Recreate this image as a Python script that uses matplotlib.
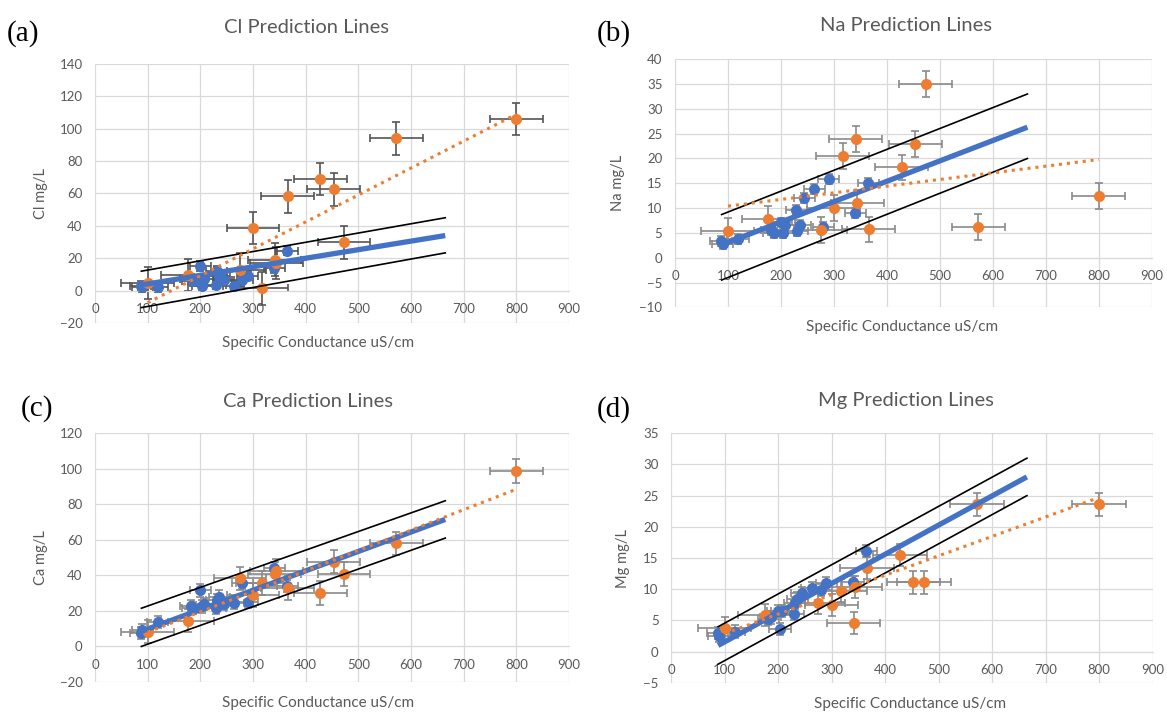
import matplotlib
matplotlib.use("Agg")
import matplotlib.pyplot as plt

# specific conductance (uS/cm) of the two sample groups
blue_sc = [87, 90, 119, 182, 186, 200, 204, 207, 229, 231, 236, 244, 263, 280, 290, 340, 365]
orange_sc = [100, 176, 275, 300, 317, 341, 344, 366, 428, 453, 473, 572, 800]

# ion concentrations, mg/L
cl_blue = [3, 2, 2, 7, 6, 15.4, 2.7, 7, 3.7, 12, 9, 6.8, 3, 6.8, 9.3, 14, 24.7]
cl_orange = [4.8, 9.5, 13, 38.7, 1.4, 19.1, 17, 58.2, 69, 62.5, 29.8, 94, 106]
na_blue = [3.4, 2.8, 3.7, 5.6, 5.0, 7.1, 5.0, 6.5, 9.6, 5.4, 6.6, 12, 13.9, 6.25, 15.9, 9.1, 15]
na_orange = [5.4, 7.8, 5.6, 10, 20.5, 23.9, 11, 5.7, 18.2, 22.9, 35, 6.25, 12.4]
ca_blue = [7.5, 9, 13.7, 22.5, 21.5, 31.5, 22.5, 24, 21.6, 26, 28, 24, 24.7, 35.6, 25.3, 44, 34]
ca_orange = [8.4, 14.6, 38.4, 29, 35.6, 40.7, 42.7, 33, 30, 47.8, 40.8, 58.1, 98.7]
mg_blue = [3, 2.5, 3.2, 5.3, 5.5, 6.5, 3.6, 6.5, 6, 7.8, 8.5, 9.4, 10.2, 9.9, 11, 11.1, 16.1]
mg_orange = [3.75, 5.9, 7.8, 7.5, 9.8, 4.6, 10.4, 13.4, 15.5, 11.1, 11.1, 23.6, 23.6]

# error bar half widths
blue_xerr = 20
orange_xerr = 50
cl_yerr = [3, 10]
na_yerr = [1, 2.6]
ca_yerr = [3.5, 6.6]
mg_yerr = [1, 1.8]

# regression line, prediction band and orange trend line end points
fit_x = [88, 665]
trend_x = [100, 800]
cl_fit, cl_upper, cl_lower, cl_trend = [3.5, 34], [12, 45], [-10.5, 23.3], [-7.5, 109]
na_fit, na_upper, na_lower, na_trend = [2.6, 26.3], [8.7, 33], [-4.5, 20], [10.4, 19.8]
ca_fit, ca_upper, ca_lower, ca_trend = [8.5, 71.5], [21.5, 82], [0, 61], [8, 88.5]
mg_fit, mg_upper, mg_lower, mg_trend = [1, 28], [4, 31], [-2, 25], [2.9, 24.7]

BLUE = "#4472C4"
ORANGE = "#ED7D31"
GRID = "#d9d9d9"
TXT = "#595959"

plt.rcParams["font.family"] = ["Lato", "DejaVu Sans"]

fig = plt.figure(figsize=(11.67, 7.15), dpi=100)


def panel(rect, ion, blue, orange, yerr, fit, upper, lower, trend, ylim, ystep,
          ecol, tag, tag_xy, title_xy, ylab_x, xlab_xy):
    ax = fig.add_axes(rect)
    ax.set_xlim(0, 900)
    ax.set_ylim(*ylim)
    ax.set_xticks(range(0, 901, 100))
    ax.set_yticks(range(ylim[0], ylim[1] + 1, ystep))
    ax.grid(True, color=GRID, lw=0.9)
    ax.set_axisbelow(True)
    for s in ["top", "right", "left"]:
        ax.spines[s].set_visible(False)
    ax.spines["bottom"].set_position(("data", 0))
    ax.spines["bottom"].set_color(GRID)
    ax.tick_params(length=0, colors=TXT, labelsize=9.5)
    ax.tick_params(axis="y", pad=9)
    ax.tick_params(axis="x", pad=9)

    ax.errorbar(blue_sc, blue, xerr=blue_xerr, yerr=yerr[0], fmt="none",
                ecolor=ecol, elinewidth=1.2, capsize=3, capthick=1.2, zorder=2)
    ax.errorbar(orange_sc, orange, xerr=orange_xerr, yerr=yerr[1], fmt="none",
                ecolor=ecol, elinewidth=1.2, capsize=3, capthick=1.2, zorder=2)
    ax.plot(blue_sc, blue, "o", color=BLUE, ms=8, mew=0, zorder=3)
    ax.plot(orange_sc, orange, "o", color=ORANGE, ms=8, mew=0, zorder=3)

    ax.plot(fit_x, upper, color="black", lw=1.2, zorder=4)
    ax.plot(fit_x, lower, color="black", lw=1.2, zorder=4)
    ax.plot(fit_x, fit, color=BLUE, lw=3.8, solid_capstyle="butt", zorder=4)
    ax.plot(trend_x, trend, color=ORANGE, lw=2.2, ls=(0, (1, 1.6)), zorder=5)

    fig.text(title_xy[0], title_xy[1], ion + " Prediction Lines", ha="center",
             va="center", fontsize=14.5, color=TXT)
    fig.text(tag_xy[0], tag_xy[1], tag, ha="left", va="center", fontsize=21,
             family="Liberation Serif", color="black")
    ax.set_ylabel(ion + " mg/L", fontsize=10.5, color=TXT)
    ax.yaxis.set_label_coords(ylab_x, 0.5)
    ax.set_xlabel("Specific Conductance uS/cm", fontsize=11, color=TXT)
    ax.xaxis.set_label_coords(*xlab_xy)
    return ax


panel([0.0814, 0.5483, 0.4062, 0.3622], "Cl", cl_blue, cl_orange, cl_yerr,
      cl_fit, cl_upper, cl_lower, cl_trend, (-20, 140), 20, "#555555",
      "(a)", (0.006, 0.953), (0.263, 0.961), -0.1, (0.47, -0.05))
panel([0.5784, 0.5702, 0.4087, 0.3469], "Na", na_blue, na_orange, na_yerr,
      na_fit, na_upper, na_lower, na_trend, (-10, 40), 5, "#8a8a8a",
      "(b)", (0.511, 0.953), (0.776, 0.965), -0.105, (0.476, -0.051))
panel([0.0814, 0.0462, 0.4062, 0.3478], "Ca", ca_blue, ca_orange, ca_yerr,
      ca_fit, ca_upper, ca_lower, ca_trend, (-20, 120), 20, "#8a8a8a",
      "(c)", (0.018, 0.429), (0.264, 0.439), -0.1, (0.47, -0.058))
panel([0.575, 0.0449, 0.4127, 0.3492], "Mg", mg_blue, mg_orange, mg_yerr,
      mg_fit, mg_upper, mg_lower, mg_trend, (-5, 35), 5, "#8a8a8a",
      "(d)", (0.511, 0.427), (0.776, 0.44), -0.085, (0.496, -0.058))

fig.savefig("out.png", dpi=100)
